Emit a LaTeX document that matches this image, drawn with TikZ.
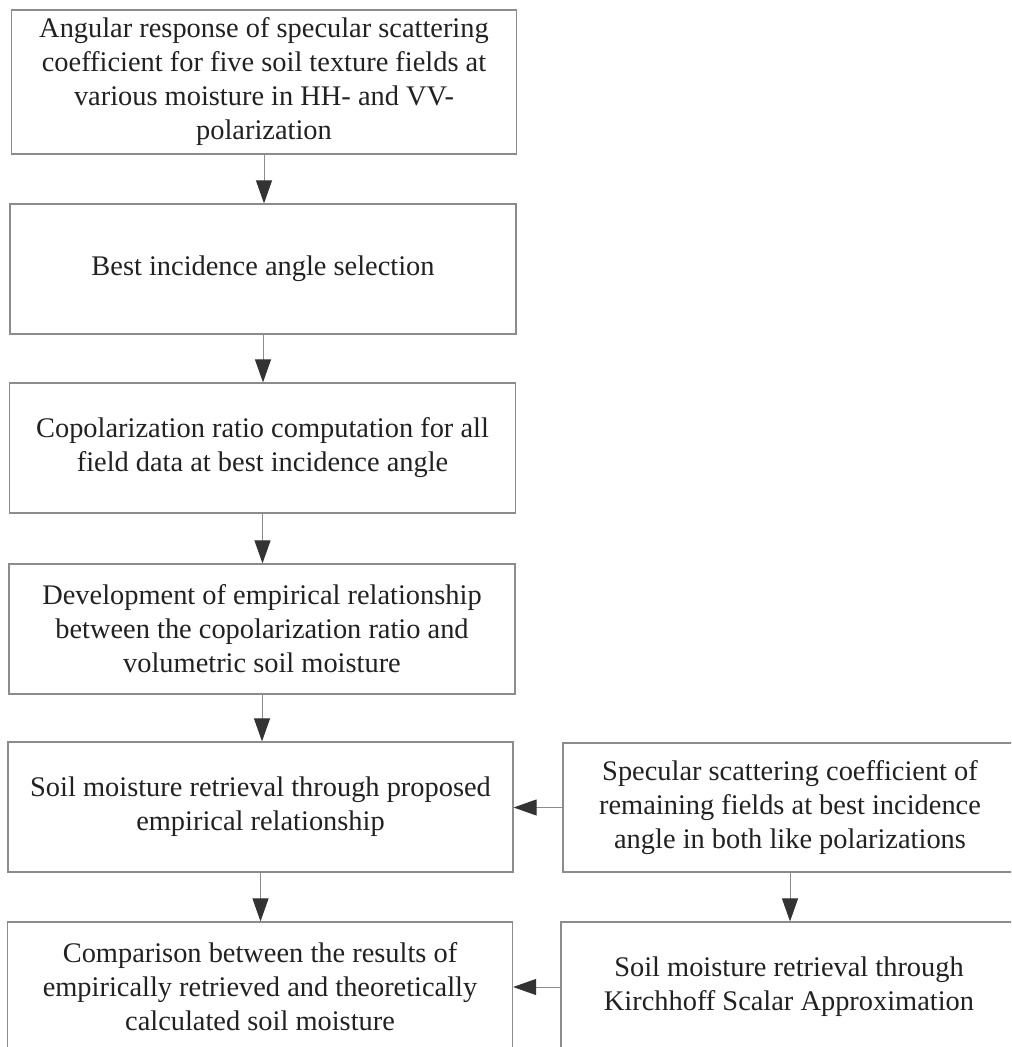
\documentclass[tikz,border=0pt]{standalone}
\usepackage{fontspec}
\setmainfont{Liberation Serif}
\usetikzlibrary{arrows.meta}
\definecolor{boxline}{gray}{0.55}
\definecolor{inktext}{gray}{0.13}
\definecolor{headfill}{gray}{0.2}
\begin{document}
\begin{tikzpicture}[x=0.5pt,y=-0.5pt,
  stepbox/.style={draw=boxline, line width=0.6pt, align=center, inner sep=0pt,
    text=inktext, font=\fontsize{14.2}{17}\selectfont},
  flow/.style={draw=boxline, line width=0.5pt,
    -{Triangle[length=11.5pt,width=8pt,fill=headfill,color=headfill]}}]
\useasboundingbox (0,0) rectangle (1011,1047);
\clip (0,0) rectangle (1011,1047);

% main column
\node[stepbox, minimum width=252.5pt, minimum height=72pt] (angular) at (264,82)
  {Angular response of specular scattering\\coefficient for five soil texture fields at\\various moisture in HH- and VV-\\polarization};
\node[stepbox, minimum width=253pt, minimum height=65pt] (best) at (263,269)
  {Best incidence angle selection};
\node[stepbox, minimum width=253pt, minimum height=65pt] (ratio) at (262.5,448)
  {Copolarization ratio computation for all\\field data at best incidence angle};
\node[stepbox, minimum width=253pt, minimum height=65pt] (develop) at (262,629)
  {Development of empirical relationship\\between the copolarization ratio and\\volumetric soil moisture};
\node[stepbox, minimum width=252.5pt, minimum height=65pt] (retrieve) at (260.5,807)
  {Soil moisture retrieval through proposed\\empirical relationship};
\node[stepbox, minimum width=252.5pt, minimum height=65pt] (compare) at (260,987)
  {Comparison between the results of\\empirically retrieved and theoretically\\calculated soil moisture};

% side column
\node[stepbox, minimum width=227pt, minimum height=64.5pt] (specular) at (790,807.5)
  {Specular scattering coefficient of\\remaining fields at best incidence\\angle in both like polarizations};
\node[stepbox, minimum width=228pt, minimum height=65pt] (kirchhoff) at (789,987)
  {Soil moisture retrieval through\\Kirchhoff Scalar Approximation};

% connectors
\draw[flow] (angular.south) -- (angular.south |- best.north);
\draw[flow] (best.south) -- (best.south |- ratio.north);
\draw[flow] (ratio.south) -- (ratio.south |- develop.north);
\draw[flow] (develop.south) -- (develop.south |- retrieve.north);
\draw[flow] (retrieve.south) -- (retrieve.south |- compare.north);
\draw[flow] (specular.south) -- (specular.south |- kirchhoff.north);
\draw[flow] (specular.west) -- (specular.west -| retrieve.east);
\draw[flow] (kirchhoff.west) -- (kirchhoff.west -| compare.east);
\end{tikzpicture}
\end{document}
